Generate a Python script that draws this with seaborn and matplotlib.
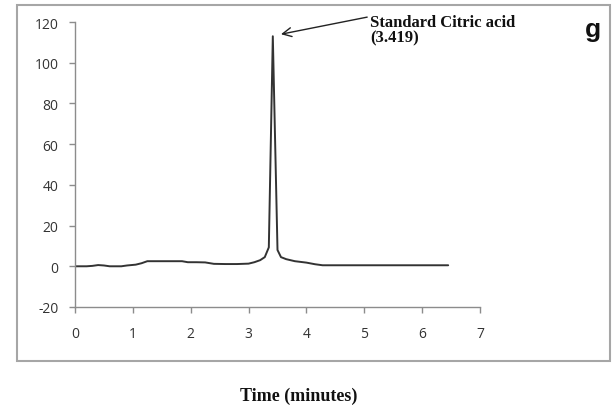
import matplotlib
matplotlib.use("Agg")
import matplotlib.pyplot as plt
import matplotlib.patches as mpatches
import seaborn as sns
import pandas as pd

time_min = [0.0, 0.2, 0.3, 0.4, 0.5, 0.6, 0.8, 0.9, 1.05, 1.15, 1.25, 1.5, 1.85, 1.95, 2.1, 2.25, 2.4, 2.6, 2.8, 3.0,
            3.1, 3.2, 3.28, 3.35, 3.419, 3.5, 3.56, 3.65, 3.8, 4.0, 4.15, 4.28, 5.0, 6.0, 6.45]
signal = [0.0, 0.0, 0.2, 0.6, 0.4, 0.0, 0.0, 0.4, 0.8, 1.5, 2.5, 2.5, 2.5, 2.0, 2.0, 1.9, 1.2, 1.1, 1.1, 1.3,
          2.0, 3.0, 4.5, 9.3, 113.0, 8.0, 4.5, 3.5, 2.5, 1.8, 1.0, 0.5, 0.5, 0.5, 0.5]

peak_name = "Standard Citric acid"
peak_rt = "(3.419)"
panel_label = "g"
x_label = "Time (minutes)"
x_ticks = [0, 1, 2, 3, 4, 5, 6, 7]
y_ticks = [-20, 0, 20, 40, 60, 80, 100, 120]

df = pd.DataFrame({"time": time_min, "signal": signal})

sns.set_style("white")
plt.rcParams["axes.unicode_minus"] = False
fig = plt.figure(figsize=(6.13, 4.06), dpi=100)
ax = fig.add_axes([75/613, 1-308/406, 405/613, 285/406])

sns.lineplot(data=df, x="time", y="signal", ax=ax, color="#333333", linewidth=1.4, sort=False)

ax.set_xlim(0, 7)
ax.set_ylim(-20, 120)
ax.set_xticks(x_ticks)
ax.set_yticks(y_ticks)
ax.set_xlabel("")
ax.set_ylabel("")
for s in ["top", "right"]:
    ax.spines[s].set_visible(False)
for s in ["left", "bottom"]:
    ax.spines[s].set_color("#8c8c8c")
    ax.spines[s].set_linewidth(1.0)
ax.tick_params(axis="both", direction="out", length=4, width=1, color="#8c8c8c",
               labelsize=10, labelcolor="#333333", left=True, bottom=True)
ax.tick_params(axis="x", pad=10)
ax.tick_params(axis="y", pad=8)
for lab in ax.get_xticklabels() + ax.get_yticklabels():
    lab.set_fontfamily("Open Sans")

# arrow from label to peak tip
ax.annotate("", xy=(3.56, 114.0), xytext=(5.05, 122.4), annotation_clip=False,
            arrowprops=dict(arrowstyle="->", color="#222222", lw=1.0, shrinkA=0, shrinkB=0,
                            mutation_scale=16))
ax.text(5.1, 123.8, peak_name + "\n" + peak_rt, fontsize=12, fontweight="bold",
        family="Liberation Serif", color="#111111", va="top", ha="left", linespacing=0.95,
        clip_on=False)

fig.text(593/613, 1-30/406, panel_label, fontsize=19, fontweight="bold", family="Liberation Sans",
         ha="center", va="center", color="#111111")
fig.text(299/613, 1-396/406, x_label, fontsize=13, fontweight="bold", family="Liberation Serif",
         ha="center", va="center", color="#111111")

frame = mpatches.Rectangle((17/613, 1-362/406), (610-17)/613, (362-6)/406, transform=fig.transFigure,
                           fill=False, edgecolor="#a6a6a6", linewidth=1.5)
fig.patches.append(frame)

fig.savefig("out.png", dpi=100)
